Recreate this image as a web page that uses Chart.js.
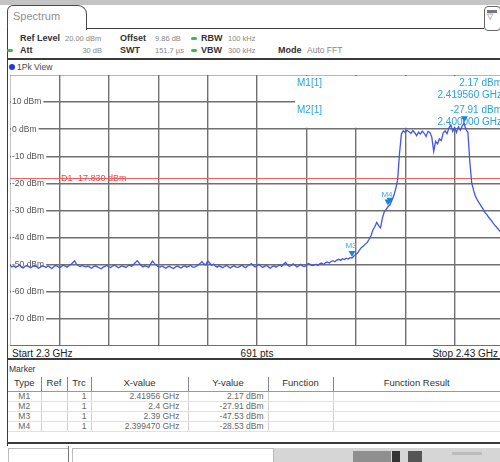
<!DOCTYPE html>
<html>
<head>
<meta charset="utf-8">
<script src="https://cdn.jsdelivr.net/npm/chart.js@4"></script>
<style>
  html, body { margin: 0; padding: 0; }
  body {
    width: 500px; height: 462px; overflow: hidden; position: relative;
    background: #fff; color: #444;
    font-family: "Liberation Sans", Arial, sans-serif; font-size: 9px;
  }
  .a { position: absolute; white-space: nowrap; }
  .b { font-weight: bold; color: #333; font-size: 9px; }
  .v { color: #888; font-size: 7.5px; }
  .dot { position: absolute; width: 6px; height: 3px; border-radius: 2px; background: #3dbb4a; }
  .rule { position: absolute; background: #3a3a3a; }
  #plot { position: absolute; left: 10px; top: 75px; width: 494px; height: 271px; }
  #markerTable { position: absolute; left: 8px; top: 377px; border-collapse: collapse; table-layout: fixed; }
  #markerTable th { font-size: 9.5px; font-weight: normal; color: #333; height: 14px; padding: 0; text-align: center;
    vertical-align: top; border-bottom: 1px solid #999; border-right: 1px solid #888; }
  #markerTable td { font-size: 8.5px; color: #666; height: 9px; padding: 0 4px; border-bottom: 1px solid #e2e2e2;
    border-right: 1px solid #d0d0d0; line-height: 9px; }
  #markerTable th:last-child, #markerTable td:last-child { border-right: none; }
</style>
</head>
<body>

<div class="a" style="left:0;top:0;width:500px;height:5px;background:#c4c4c4"></div>
<div class="a" style="left:7px;top:5px;width:78px;height:24px;border:1px solid #4a4a4a;border-bottom:none;border-radius:6px 9px 0 0"></div>
<div class="a" style="left:13px;top:10px;font-size:11px;color:#909090">Spectrum</div>
<div class="rule" style="left:86px;top:28px;width:398px;height:1px"></div>
<div class="a" style="left:484px;top:6px;width:15px;height:23px;border:1px solid #666;border-radius:4px"></div>
<div class="a" style="left:487px;top:10px;width:10px;height:3px;background:#777"></div>
<div class="a" style="left:487px;top:12px;font-size:8px;color:#666">&#9661;</div>
<div class="rule" style="left:7px;top:28px;width:1px;height:418px"></div>

<div class="a b" style="left:20px;top:33px">Ref Level</div>
<div class="a v" style="left:65px;top:34px">20.00 dBm</div>
<div class="a b" style="left:120px;top:33px">Offset</div>
<div class="a v" style="left:155px;top:34px">9.86 dB</div>
<div class="dot" style="left:191px;top:37px"></div>
<div class="a b" style="left:201px;top:33px">RBW</div>
<div class="a v" style="left:228px;top:34px">100 kHz</div>

<div class="dot" style="left:7px;top:49px"></div>
<div class="a b" style="left:20px;top:45px">Att</div>
<div class="a v" style="left:76px;top:46px;width:26px;text-align:right">30 dB</div>
<div class="a b" style="left:120px;top:45px">SWT</div>
<div class="a v" style="left:155px;top:46px">151.7 &micro;s</div>
<div class="dot" style="left:191px;top:49px"></div>
<div class="a b" style="left:201px;top:45px">VBW</div>
<div class="a v" style="left:228px;top:46px">300 kHz</div>
<div class="a b" style="left:278px;top:45px">Mode</div>
<div class="a" style="left:307px;top:45px;font-size:8.5px;color:#888">Auto FFT</div>

<div class="rule" style="left:7px;top:58px;width:493px;height:2px"></div>
<div class="a" style="left:9px;top:64px;width:6px;height:6px;border-radius:50%;background:#2437dd"></div>
<div class="a" style="left:17px;top:62px;font-size:8.5px;color:#444">1Pk View</div>

<div id="plot"><canvas id="spectrum" width="494" height="271"></canvas></div>

<div class="a" style="left:12px;top:348px;font-size:10px;color:#222">Start 2.3 GHz</div>
<div class="a" style="left:257px;top:348px;font-size:10px;color:#222;transform:translateX(-50%)">691 pts</div>
<div class="a" style="left:420px;top:348px;width:78px;text-align:right;font-size:10px;color:#222">Stop 2.43 GHz</div>
<div class="rule" style="left:7px;top:358px;width:493px;height:2px"></div>

<div class="a" style="left:9px;top:364px;font-size:8.5px;color:#333">Marker</div>
<table id="markerTable">
  <colgroup>
    <col style="width:33px"><col style="width:26px"><col style="width:24px"><col style="width:97px">
    <col style="width:80px"><col style="width:65px"><col style="width:167px">
  </colgroup>
  <thead>
    <tr><th>Type</th><th>Ref</th><th>Trc</th><th>X-value</th><th>Y-value</th><th>Function</th><th>Function Result</th></tr>
  </thead>
  <tbody id="markerRows"></tbody>
</table>
<div class="rule" style="left:7px;top:442px;width:493px;height:2px"></div>

<div class="a" style="left:8px;top:448px;width:59px;height:16px;border:1px solid #bbb;border-bottom:none"></div>
<div class="a" style="left:68px;top:446px;width:1px;height:16px;background:#777"></div>
<div class="a" style="left:72px;top:448px;width:200px;height:16px;border:1px solid #bbb;border-bottom:none"></div>
<div class="a" style="left:274px;top:448px;width:226px;height:14px;background:#d6d6d6"></div>
<div class="a" style="left:353px;top:451px;width:38px;height:11px;background:#8f8f8f"></div>
<div class="a" style="left:392px;top:451px;width:8px;height:11px;background:#333"></div>
<div class="a" style="left:408px;top:451px;width:14px;height:11px;background:#555"></div>
<div class="a" style="left:452px;top:452px;width:30px;height:3px;background:#bcbcbc"></div>

<script>
// sweep: 2300 MHz start, one level every 0.5 MHz up to 2430 MHz
const sweepStartMHz = 2300;
const sweepStepMHz = 0.5;
const spanStopMHz = 2430;
const divisionMHz = 13;

const refLevel = 20;
const bottomLevel = -80;
const levelLabels = [10, 0, -10, -20, -30, -40, -50, -60, -70];

// trace 1 (peak), dBm
const traceLevels = [
  -50.2,-50.8,-50.4,-51.0,-50.6,-50.1,-50.9,-51.2,-50.5,-50.3,-50.8,-51.1,-50.6,-50.2,-50.7,-51.3,-50.9,-50.4,-50.6,-51.0,
  -50.5,-50.9,-51.4,-50.8,-50.3,-50.6,-51.1,-50.7,-50.2,-50.5,-50.9,-50.4,-50.0,-49.3,-48.6,-49.8,-50.4,-50.7,-50.3,-50.6,
  -50.8,-50.5,-50.9,-51.3,-50.7,-50.4,-50.8,-51.2,-51.5,-50.9,-50.6,-50.3,-50.7,-51.0,-50.5,-50.2,-50.6,-51.1,-50.8,-50.4,
  -50.7,-51.0,-50.5,-50.1,-50.6,-49.9,-49.2,-48.5,-49.4,-50.3,-50.8,-50.4,-50.6,-51.0,-49.8,-48.7,-49.5,-50.2,-50.7,-50.9,
  -50.5,-50.9,-51.3,-50.8,-50.6,-51.1,-51.4,-50.9,-50.5,-50.8,-51.2,-50.7,-50.4,-50.9,-50.6,-50.3,-50.8,-51.0,-50.5,-50.2,
  -49.6,-48.8,-49.7,-50.1,-48.6,-49.3,-50.2,-49.8,-50.5,-50.9,-50.4,-50.7,-51.1,-50.6,-50.3,-50.8,-51.2,-50.7,-50.4,-50.9,
  -51.0,-50.6,-50.2,-50.7,-51.1,-50.5,-50.1,-49.6,-50.3,-50.8,-50.4,-49.9,-50.5,-51.0,-50.6,-50.2,-50.8,-51.3,-50.7,-50.4,
  -50.9,-50.5,-50.1,-50.6,-49.8,-49.2,-50.0,-50.6,-50.3,-49.7,-50.2,-50.8,-50.4,-49.9,-50.5,-50.7,-50.2,-49.6,-49.9,-50.3,
  -50.2,-49.8,-50.3,-49.7,-49.4,-49.9,-49.3,-49.0,-49.4,-48.8,-48.5,-48.9,-48.3,-48.0,-48.4,-47.8,-48.1,-47.6,-47.9,-47.4,
  -47.53,-46.8,-46.2,-45.6,-44.5,-43.6,-43.1,-42.4,-41.8,-40.6,-39.3,-37.2,-36.0,-34.4,-35.6,-36.4,-32.8,-30.5,-29.6,-28.53,
  -27.91,-26.2,-24.5,-22.0,-18.8,-9.0,-1.8,-0.6,-1.2,-0.4,-0.9,-1.6,-0.5,-1.3,-2.4,-1.1,-1.8,-0.7,-1.5,-2.7,
  -0.8,-1.2,-2.9,-8.2,-4.5,-5.4,-3.6,-4.2,-1.3,-0.6,-1.7,0.4,1.6,-0.8,0.6,-1.2,0.9,-0.4,1.2,2.17,
  -0.2,-1.1,-12.0,-19.8,-22.6,-24.8,-26.2,-27.3,-28.4,-29.5,-30.8,-31.5,-32.6,-33.4,-34.4,-35.3,-36.1,-36.9,-37.8,-38.6,
  -39.4
];

// display line D1
const displayLine = -17.83;

// markers
const markerNames = ['M1', 'M2', 'M3', 'M4'];
const markerFreqGHz = [2.41956, 2.4, 2.39, 2.39947];
const markerFreqDigits = [5, 1, 2, 6];
const markerLevel = [2.17, -27.91, -47.53, -28.53];
const markerShowLabel = [false, false, true, true];

// marker table
const rows = document.getElementById('markerRows');
markerNames.forEach((name, i) => {
  const tr = document.createElement('tr');
  const cells = [name, '', '1', markerFreqGHz[i].toFixed(markerFreqDigits[i]) + ' GHz',
                 markerLevel[i].toFixed(2) + ' dBm', '', ''];
  const align = ['center', 'center', 'right', 'right', 'right', 'left', 'left'];
  cells.forEach((t, k) => {
    const td = document.createElement('td');
    td.textContent = t;
    td.style.textAlign = align[k];
    if (k === 3) td.style.paddingRight = '8px';
    tr.appendChild(td);
  });
  rows.appendChild(tr);
});

const tracePoints = traceLevels.map((v, i) => ({ x: sweepStartMHz + i * sweepStepMHz, y: v }));

const analyzerOverlay = {
  id: 'analyzerOverlay',
  beforeDatasetsDraw(chart) {
    const { ctx, chartArea, scales: { x, y } } = chart;
    ctx.save();

    // level labels sit inside the grid, on a white patch
    ctx.font = '8.5px "Liberation Sans", Arial, sans-serif';
    ctx.textBaseline = 'middle';
    levelLabels.forEach(v => {
      const py = y.getPixelForValue(v);
      const txt = v + ' dBm';
      const w = ctx.measureText(txt).width;
      ctx.fillStyle = '#fff';
      ctx.fillRect(chartArea.left + 1, py - 4, w + 3, 8);
      ctx.fillStyle = '#555';
      ctx.fillText(txt, chartArea.left + 2, py);
    });

    // display line
    const yd = Math.round(y.getPixelForValue(displayLine)) + 0.5;
    ctx.strokeStyle = '#f26464';
    ctx.lineWidth = 1;
    ctx.beginPath();
    ctx.moveTo(chartArea.left, yd);
    ctx.lineTo(chartArea.right, yd);
    ctx.stroke();
    ctx.fillStyle = '#e84a4a';
    ctx.font = '9px "Liberation Sans", Arial, sans-serif';
    ctx.fillText('D1 ' + displayLine.toFixed(3) + ' dBm', 51, yd);

    // marker readout box
    const boxLeft = 285;
    const boxBottom = y.getPixelForValue(0) - 1.5;
    ctx.fillStyle = '#fff';
    ctx.fillRect(boxLeft, chartArea.top + 1, chartArea.right - boxLeft, boxBottom - chartArea.top - 1);
    ctx.fillStyle = '#2ba2da';
    ctx.font = '10px "Liberation Sans", Arial, sans-serif';
    const right = 492;
    [0, 1].forEach(i => {
      const top = 8 + i * 27;
      ctx.textAlign = 'left';
      ctx.fillText(markerNames[i] + '[1]', 287, top);
      ctx.textAlign = 'right';
      ctx.fillText(markerLevel[i].toFixed(2) + ' dBm', right, top);
      ctx.fillText(markerFreqGHz[i].toFixed(6) + ' GHz', right, top + 12);
    });
    ctx.restore();
  },
  afterDatasetsDraw(chart) {
    const { ctx, scales: { x, y } } = chart;
    ctx.save();
    ctx.font = '8px "Liberation Sans", Arial, sans-serif';
    ctx.textAlign = 'center';
    ctx.textBaseline = 'middle';
    markerNames.forEach((name, i) => {
      const px = x.getPixelForValue(markerFreqGHz[i] * 1000);
      const py = y.getPixelForValue(markerLevel[i]);
      ctx.fillStyle = '#1b84d6';
      ctx.beginPath();
      ctx.moveTo(px - 3.5, py - 7);
      ctx.lineTo(px + 3.5, py - 7);
      ctx.lineTo(px, py - 1);
      ctx.closePath();
      ctx.fill();
      if (markerShowLabel[i]) {
        ctx.fillStyle = '#3aa8dc';
        ctx.fillText(name, px - 1, py - 12);
      }
    });
    ctx.restore();
  }
};

new Chart(document.getElementById('spectrum'), {
  type: 'line',
  data: {
    datasets: [{
      data: tracePoints,
      borderColor: '#4356e4',
      borderWidth: 1.3,
      pointRadius: 0,
      tension: 0
    }]
  },
  options: {
    responsive: false,
    animation: false,
    layout: { padding: 0 },
    plugins: { legend: { display: false }, tooltip: { enabled: false } },
    scales: {
      x: {
        type: 'linear',
        min: sweepStartMHz,
        max: spanStopMHz,
        ticks: { display: false, stepSize: divisionMHz },
        grid: { color: '#707070', lineWidth: 1.4, drawTicks: false },
        border: { display: false }
      },
      y: {
        min: bottomLevel,
        max: refLevel,
        ticks: { display: false, stepSize: 10 },
        grid: { color: '#707070', lineWidth: 1.4, drawTicks: false },
        border: { display: false }
      }
    }
  },
  plugins: [analyzerOverlay]
});
</script>
</body>
</html>
